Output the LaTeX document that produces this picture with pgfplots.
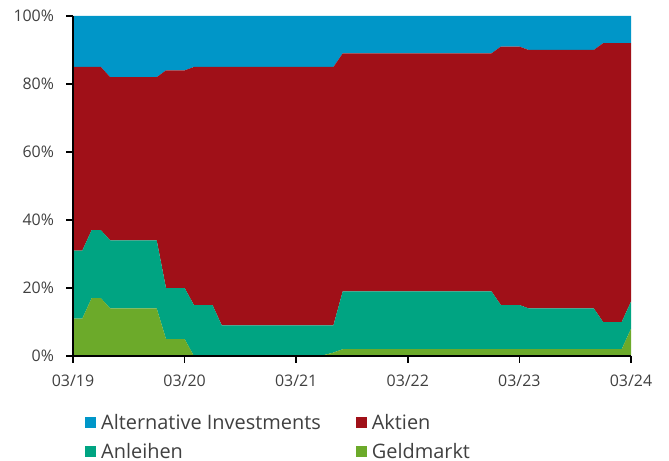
\documentclass[border=0pt]{standalone}
\usepackage{fontspec}
\setmainfont{Open Sans}
\usepackage{pgfplots}
\usepackage{pgfplotstable}
\pgfplotsset{compat=1.18}
\definecolor{altblue}{HTML}{0096C8}
\definecolor{aktred}{HTML}{A01018}
\definecolor{anlteal}{HTML}{00A482}
\definecolor{geldgreen}{HTML}{6CAA2A}
\definecolor{txtgray}{HTML}{404040}
\pgfplotstableread{
m G A K Alt
0 11 20 54 15
1 11 20 54 15
2 17 20 48 15
3 17 20 48 15
4 14 20 48 18
5 14 20 48 18
6 14 20 48 18
7 14 20 48 18
8 14 20 48 18
9 14 20 48 18
10 5 15 64 16
11 5 15 64 16
12 5 15 64 16
13 0 15 70 15
14 0 15 70 15
15 0 15 70 15
16 0 9 76 15
17 0 9 76 15
18 0 9 76 15
19 0 9 76 15
20 0 9 76 15
21 0 9 76 15
22 0 9 76 15
23 0 9 76 15
24 0 9 76 15
25 0 9 76 15
26 0 9 76 15
27 0.3 8.7 76 15
28 1 8 76 15
29 2 17 70 11
30 2 17 70 11
31 2 17 70 11
32 2 17 70 11
33 2 17 70 11
34 2 17 70 11
35 2 17 70 11
36 2 17 70 11
37 2 17 70 11
38 2 17 70 11
39 2 17 70 11
40 2 17 70 11
41 2 17 70 11
42 2 17 70 11
43 2 17 70 11
44 2 17 70 11
45 2 17 70 11
46 2 13 76 9
47 2 13 76 9
48 2 13 76 9
49 2 12 76 10
50 2 12 76 10
51 2 12 76 10
52 2 12 76 10
53 2 12 76 10
54 2 12 76 10
55 2 12 76 10
56 2 12 76 10
57 2 8 82 8
58 2 8 82 8
59 2 8 82 8
60 8 8 76 8
}\data
\begin{document}
\begin{tikzpicture}
\path[use as bounding box] (-73bp,-105bp) rectangle (596bp,356bp);
\begin{axis}[
  at={(0,0)}, anchor=south west,
  scale only axis, width=558bp, height=340bp,
  xmin=0, xmax=60, ymin=0, ymax=100,
  axis on top,
  axis x line*=bottom, axis y line*=left,
  axis line style={line width=1.5bp, black},
  xtick={0,12,24,36,48,60},
  xticklabels={03/19,03/20,03/21,03/22,03/23,03/24},
  ytick={0,20,40,60,80,100},
  yticklabels={0\%,20\%,40\%,60\%,80\%,100\%},
  xtick pos=lower, ytick pos=left,
  xtick align=outside, ytick align=outside,
  major tick length=6.5bp,
  tick style={draw=black, line width=1.5bp},
  tick label style={font=\fontsize{16}{19}\selectfont, text=txtgray},
  xticklabel style={yshift=-9bp},
  yticklabel style={xshift=-9bp},
  stack plots=y, area style,
  reverse legend, legend columns=2,
  legend image code/.code={\fill[#1] (0bp,-5.5bp) rectangle (11bp,5.5bp);},
  legend style={at={(0.0215,-0.166)}, anchor=north west, draw=none,
    font=\fontsize{20}{24}\selectfont, text=txtgray,
    inner sep=0pt, row sep=8bp,
    /tikz/every odd column/.append style={column sep=3bp},
    /tikz/every even column/.append style={column sep=33bp}},
  legend cell align=left,
]
\addplot[fill=geldgreen, draw=none] table[x=m, y=G] {\data} \closedcycle;
\addplot[fill=anlteal, draw=none] table[x=m, y=A] {\data} \closedcycle;
\addplot[fill=aktred, draw=none] table[x=m, y=K] {\data} \closedcycle;
\addplot[fill=altblue, draw=none] table[x=m, y=Alt] {\data} \closedcycle;
\legend{Geldmarkt, Anleihen, Aktien, Alternative Investments}
\end{axis}
\end{tikzpicture}
\end{document}
